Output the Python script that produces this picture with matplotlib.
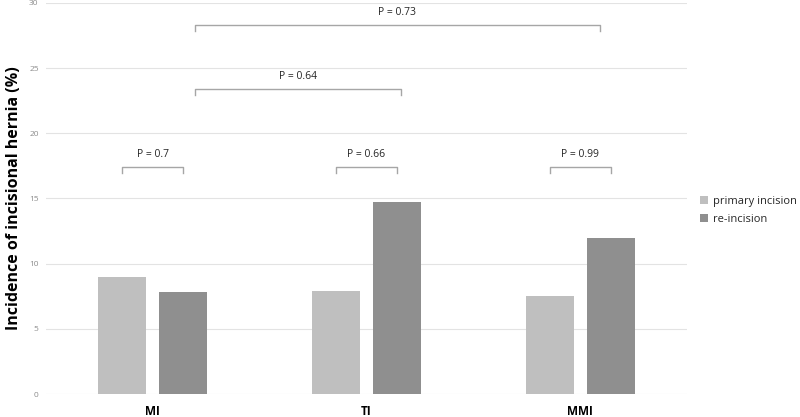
import matplotlib.pyplot as plt
import numpy as np

plt.rcParams['font.family'] = ['Open Sans', 'DejaVu Sans']

categories = ["MI", "TI", "MMI"]
primary = [9.0, 7.9, 7.5]
reincision = [7.8, 14.7, 12.0]
series_labels = ["primary incision", "re-incision"]

# within-group comparisons
pair_p = ["P = 0.7", "P = 0.66", "P = 0.99"]
pair_y = 17.4
# between-group comparisons: (x start, x end, height, label)
cross_brackets = [
    (0.2, 1.16, 23.4, "P = 0.64"),
    (0.2, 2.09, 28.3, "P = 0.73"),
]

c_primary = "#bfbfbf"
c_re = "#8f8f8f"
bracket_c = "#a6a6a6"

fig = plt.figure(figsize=(8, 4.17), dpi=100)
ax = fig.add_axes([0.057, 0.055, 0.802, 0.938])

x = np.arange(len(categories))
w = 0.224
off = 0.1425
ax.bar(x - off, primary, w, color=c_primary, label=series_labels[0], zorder=2)
ax.bar(x + off, reincision, w, color=c_re, label=series_labels[1], zorder=2)

ax.set_xlim(-0.5, 2.5)
ax.set_ylim(0, 30)
ax.set_yticks(np.arange(0, 31, 5))
ax.yaxis.grid(True, color="#e3e3e3", linewidth=0.8, zorder=0)
ax.set_axisbelow(True)
for s in ax.spines.values():
    s.set_visible(False)
ax.tick_params(axis="y", length=0, labelsize=6, labelcolor="#8c8c8c", pad=5)
ax.tick_params(axis="x", length=0, pad=8)
ax.set_xticks(x)
ax.set_xticklabels(categories, fontsize=8.5, fontweight="bold")
ax.set_ylabel("Incidence of incisional hernia (%)", fontsize=11.5,
              fontweight="bold", labelpad=5)


def bracket(x0, x1, y, label, text_dy=0.55):
    h = 0.45
    ax.plot([x0, x0, x1, x1], [y - h, y, y, y - h], color=bracket_c,
            linewidth=1.0, zorder=3)
    ax.text((x0 + x1) / 2, y + text_dy, label, ha="center", va="bottom",
            fontsize=7.5, color="#262626")


for i, lab in enumerate(pair_p):
    bracket(i - off, i + off, pair_y, lab)
for x0, x1, y, lab in cross_brackets:
    bracket(x0, x1, y, lab)

leg = ax.legend(loc="center left", bbox_to_anchor=(1.005, 0.47), frameon=False,
                fontsize=8, handlelength=0.7, handleheight=0.7,
                handletextpad=0.4, labelspacing=0.6)
for t in leg.get_texts():
    t.set_color("#262626")

fig.savefig("out.png", dpi=100)
